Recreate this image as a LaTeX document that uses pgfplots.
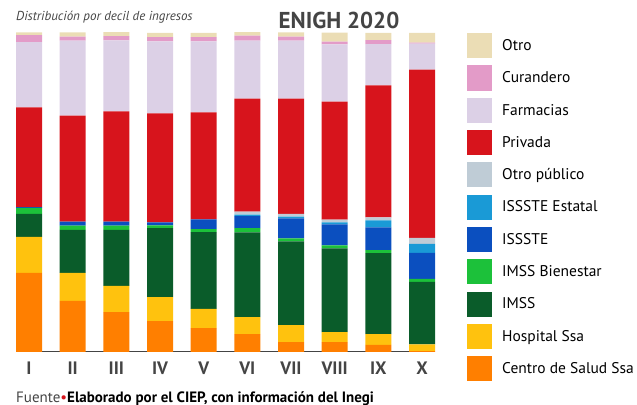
\documentclass[border=0pt]{standalone}
\usepackage{pgfplots}
\pgfplotsset{compat=1.18}
\usepackage{pgfplotstable}
\usepackage{fontspec}
\setmainfont{PT Sans}
\definecolor{cOtro}{HTML}{EBDDB5}
\definecolor{cCur}{HTML}{E39BC8}
\definecolor{cFarm}{HTML}{DCD0E6}
\definecolor{cPriv}{HTML}{D7141C}
\definecolor{cOpub}{HTML}{BFCCD6}
\definecolor{cIsE}{HTML}{1A9AD6}
\definecolor{cIs}{HTML}{0B4FBF}
\definecolor{cImB}{HTML}{1CC13A}
\definecolor{cIm}{HTML}{0A5C2A}
\definecolor{cHos}{HTML}{FFC20E}
\definecolor{cCen}{HTML}{FF7F00}
\definecolor{txt}{HTML}{444444}
\pgfplotstableread{
x centro hosp imss imssb issste isssteE otropub priv farm cur otro
0 24.8 11.3 7.2  1.9 0.2 0.0 0.0 31.3 20.4 2.2 0.9
1 16.0 8.8  13.5 1.3 1.3 0.0 0.0 33.2 23.5 1.3 1.3
2 12.5 8.2  17.6 1.3 1.3 0.0 0.0 34.5 22.3 1.3 1.3
3 9.7  7.5  21.6 0.9 0.9 0.0 0.0 34.2 22.6 1.3 1.3
4 7.5  6.0  24.1 0.9 3.1 0.0 0.0 33.5 22.3 1.3 1.3
5 5.6  5.3  26.6 1.3 3.8 0.5 0.9 35.4 18.2 1.6 1.3
6 3.1  5.3  26.3 0.9 6.3 0.5 0.9 36.1 18.2 1.3 1.3
7 3.1  3.1  26.3 0.9 6.6 0.6 0.9 37.0 17.9 0.9 2.8
8 2.2  3.4  25.4 0.9 7.2 2.2 0.9 41.4 12.9 1.3 2.2
9 0.3  2.1  19.6 0.9 8.2 2.8 1.9 52.7 8.2  0.3 3.0
}\datatable
\begin{document}
\begin{tikzpicture}
\path[use as bounding box] (0,0) rectangle (637bp,405bp);
\begin{axis}[
  at={(16bp,53bp)}, anchor=south west,
  scale only axis, width=419bp, height=319bp,
  xmin=-0.2977, xmax=9.2977, ymin=0, ymax=100,
  ybar stacked, bar width=26bp,
  legend image code/.code={\fill[#1] (0bp,-12.5bp) rectangle (25bp,12.5bp);},
  axis line style={draw=none},
  ytick=\empty,
  xtick={0,...,9},
  xticklabels={I,II,III,IV,V,VI,VII,VIII,IX,X},
  major tick length=0pt,
  xticklabel style={font=\fontsize{18bp}{20bp}\selectfont\bfseries, text=txt, yshift=-6bp},
  reverse legend,
  legend style={at={(rel axis cs:1.0764,1.0)}, anchor=north west, draw=none, fill=none,
    inner sep=0pt, row sep=7.3bp, column sep=10bp,
    nodes={inner sep=0pt, font=\fontsize{15.5bp}{17bp}\selectfont, text=black}},
  legend cell align=left,
  every axis plot/.append style={draw=none},
]
\addplot[fill=cCen] table[x=x,y=centro]{\datatable};
\addlegendentry{Centro de Salud Ssa}
\addplot[fill=cHos] table[x=x,y=hosp]{\datatable};
\addlegendentry{Hospital Ssa}
\addplot[fill=cIm] table[x=x,y=imss]{\datatable};
\addlegendentry{IMSS}
\addplot[fill=cImB] table[x=x,y=imssb]{\datatable};
\addlegendentry{IMSS Bienestar}
\addplot[fill=cIs] table[x=x,y=issste]{\datatable};
\addlegendentry{ISSSTE}
\addplot[fill=cIsE] table[x=x,y=isssteE]{\datatable};
\addlegendentry{ISSSTE Estatal}
\addplot[fill=cOpub] table[x=x,y=otropub]{\datatable};
\addlegendentry{Otro público}
\addplot[fill=cPriv] table[x=x,y=priv]{\datatable};
\addlegendentry{Privada}
\addplot[fill=cFarm] table[x=x,y=farm]{\datatable};
\addlegendentry{Farmacias}
\addplot[fill=cCur] table[x=x,y=cur]{\datatable};
\addlegendentry{Curandero}
\addplot[fill=cOtro] table[x=x,y=otro]{\datatable};
\addlegendentry{Otro}
\draw[line width=2bp, color=txt] (rel axis cs:0,0) -- (rel axis cs:1,0);
\end{axis}
\node[anchor=west, inner sep=0pt, font=\fontsize{13bp}{15bp}\selectfont\itshape, text=txt] at (16bp,388bp) {Distribución por decil de ingresos};
\node[anchor=center, inner sep=0pt, font=\fontsize{23bp}{26bp}\selectfont\bfseries, text=txt] at (339bp,384.5bp) {ENIGH 2020};
\node[anchor=base west, inner sep=0pt, font=\fontsize{15bp}{17bp}\selectfont] at (16bp,3bp) {\textcolor{txt}{Fuente}\textcolor{cPriv}{\textbullet}\textbf{Elaborado por el CIEP, con información del Inegi}};
\end{tikzpicture}
\end{document}
